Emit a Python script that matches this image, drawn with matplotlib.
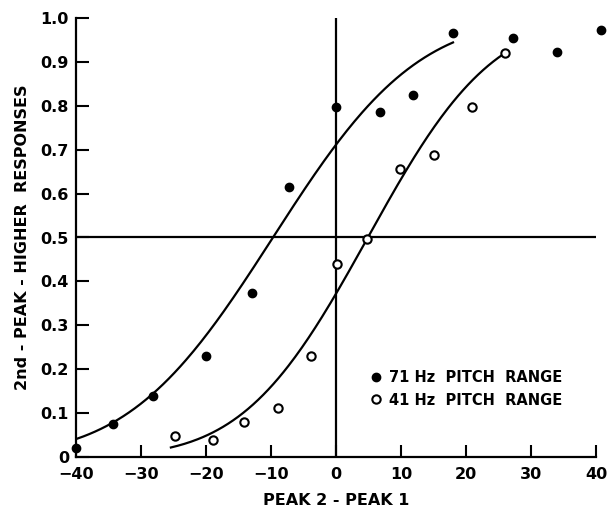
import math
import matplotlib
matplotlib.use('Agg')
import matplotlib.pyplot as plt
import numpy as np

# Data points
x_71 = [-40, -34.3, -28.1, -20, -12.9, -7.2, 0, 6.8, 11.9, 18, 27.3, 34, 40.7]
y_71 = [0.02, 0.075, 0.139, 0.23, 0.373, 0.615, 0.797, 0.787, 0.825, 0.965, 0.954, 0.922, 0.972]

x_41 = [-24.7, -19, -14.2, -9, -3.8, 0.1, 4.7, 9.8, 15, 20.9, 26]
y_41 = [0.048, 0.039, 0.08, 0.111, 0.229, 0.44, 0.497, 0.655, 0.687, 0.797, 0.921]

# Fitted ogives (50% point, spread, x range)
fit_71 = dict(mu=-9.7, sigma=17.4, x0=-40, x1=18)
fit_41 = dict(mu=4.9, sigma=15.0, x0=-25.4, x1=26)

x_ticks = [-40, -30, -20, -10, 0, 10, 20, 30, 40]
x_labels = ['\u221240', '\u221230', '\u221220', '\u221210', '0', '10', '20', '30', '40']
y_ticks = [0, 0.1, 0.2, 0.3, 0.4, 0.5, 0.6, 0.7, 0.8, 0.9, 1.0]
y_labels = ['0', '0.1', '0.2', '0.3', '0.4', '0.5', '0.6', '0.7', '0.8', '0.9', '1.0']


def ogive(fit, n=200):
    xs = np.linspace(fit['x0'], fit['x1'], n)
    ys = [0.5 * (1 + math.erf((v - fit['mu']) / (fit['sigma'] * math.sqrt(2)))) for v in xs]
    return xs, ys


plt.rcParams['font.family'] = ['DejaVu Sans']
plt.rcParams['font.weight'] = 'bold'

fig = plt.figure(figsize=(6.14, 5.11), dpi=100)
ax = fig.add_axes([76 / 614, 1 - 457 / 511, 520 / 614, 439 / 511])

lw = 1.6
# reference lines
ax.axhline(0.5, color='black', lw=lw, xmin=0, xmax=1)
ax.plot([0, 0], [0, 1.0], color='black', lw=lw)

# fitted curves
xs, ys = ogive(fit_71)
ax.plot(xs, ys, color='black', lw=lw)
xs, ys = ogive(fit_41)
ax.plot(xs, ys, color='black', lw=lw)

# data
ax.plot(x_71, y_71, 'o', color='black', ms=6, clip_on=False, zorder=5,
        label='71 Hz  PITCH  RANGE')
ax.plot(x_41, y_41, 'o', mfc='white', mec='black', mew=1.5, ms=6, clip_on=False,
        zorder=5, label='41 Hz  PITCH  RANGE')

ax.set_xlim(-40, 40)
ax.set_ylim(0, 1.0)
ax.set_xticks(x_ticks)
ax.set_xticklabels(x_labels)
ax.set_yticks(y_ticks)
ax.set_yticklabels(y_labels)

for s in ['top', 'right']:
    ax.spines[s].set_visible(False)
for s in ['left', 'bottom']:
    ax.spines[s].set_linewidth(lw)

ax.tick_params(direction='in', length=9, width=1.5, labelsize=11.5, pad=5)
ax.tick_params(axis='x', pad=7)
for lab in ax.get_xticklabels() + ax.get_yticklabels():
    lab.set_fontweight('bold')

ax.set_xlabel('PEAK 2 - PEAK 1', fontsize=11.5, fontweight='bold', labelpad=8)
ax.set_ylabel('2nd - PEAK - HIGHER  RESPONSES', fontsize=11.5, fontweight='bold', labelpad=8)

ax.legend(loc='center left', bbox_to_anchor=(0.535, 0.155), frameon=False,
          handletextpad=0.3, labelspacing=0.5, handlelength=1.2,
          prop={'weight': 'bold', 'size': 10.5})

fig.savefig('out.png', dpi=100)
